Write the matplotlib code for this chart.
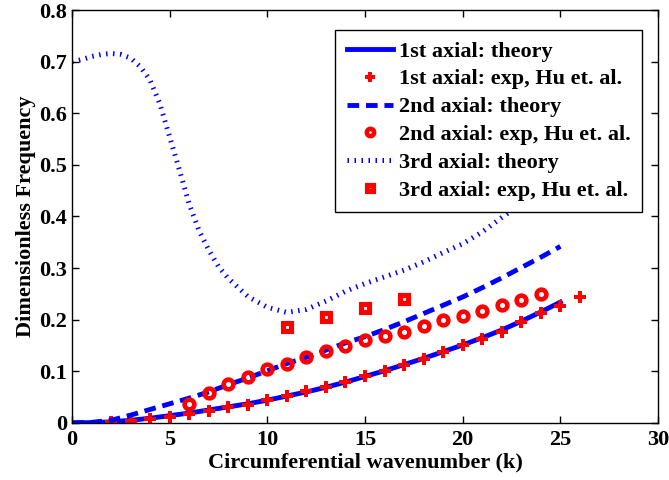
import numpy as np
import matplotlib
matplotlib.use("Agg")
import matplotlib.pyplot as plt
from matplotlib.ticker import FuncFormatter

# theory curves
k_th = np.arange(0, 26)
f1_th = [0.0, 0.0005, 0.002, 0.005, 0.009, 0.014, 0.019, 0.025, 0.031, 0.037,
         0.044, 0.052, 0.060, 0.069, 0.079, 0.090, 0.101, 0.113, 0.125, 0.138,
         0.151, 0.165, 0.180, 0.197, 0.215, 0.234]
f2_th = [0.0, 0.001, 0.005, 0.015, 0.026, 0.037, 0.048, 0.060, 0.074, 0.087,
         0.101, 0.115, 0.127, 0.141, 0.155, 0.167, 0.181, 0.196, 0.212, 0.228,
         0.244, 0.262, 0.281, 0.301, 0.321, 0.342]
k3_th = [0, 0.5, 1, 1.5, 2, 2.5, 3, 3.5, 4, 4.5, 5, 5.5, 6, 6.5, 7, 7.5, 8,
         9, 10, 11, 12, 13, 14, 15, 16, 17, 18, 19, 20, 21, 22, 23, 24, 25]
f3_th = [0.700, 0.704, 0.710, 0.714, 0.716, 0.714, 0.707, 0.690, 0.664, 0.618,
         0.554, 0.490, 0.424, 0.373, 0.335, 0.303, 0.280, 0.245, 0.224, 0.214,
         0.220, 0.236, 0.255, 0.270, 0.283, 0.296, 0.312, 0.330, 0.347, 0.370,
         0.398, 0.425, 0.455, 0.485]

# experiments, Hu et al.
k1_exp = np.arange(2, 27)
f1_exp = [0.002, 0.004, 0.008, 0.012, 0.017, 0.023, 0.030, 0.035, 0.044, 0.052,
          0.061, 0.069, 0.080, 0.091, 0.101, 0.112, 0.124, 0.137, 0.150, 0.163,
          0.177, 0.195, 0.212, 0.227, 0.243]
k2_exp = np.arange(6, 25)
f2_exp = [0.037, 0.057, 0.076, 0.089, 0.104, 0.115, 0.127, 0.139, 0.149, 0.160,
          0.169, 0.176, 0.188, 0.199, 0.207, 0.216, 0.228, 0.238, 0.249]
k3_exp = [11, 13, 15, 17]
f3_exp = [0.185, 0.206, 0.223, 0.240]

plt.rcParams['font.family'] = ['Liberation Serif', 'DejaVu Serif']
plt.rcParams['font.weight'] = 'bold'

fig = plt.figure(figsize=(6.69, 4.8), dpi=100)
ax = fig.add_axes([0.1076, 0.119, 0.8760, 0.860])

ax.plot(k_th, f1_th, '-', color='#0000ff', lw=3.5, label='1st axial: theory')
ax.plot(k1_exp, f1_exp, 'P', color='#ff0000', ms=9, mew=0,
        label='1st axial: exp, Hu et. al.')
ax.plot(k_th, f2_th, color='#0000ff', lw=3.5, ls=(0, (2.4, 1.4)),
        label='2nd axial: theory')
ax.plot(k2_exp, f2_exp, 'o', mec='#ff0000', mfc='none', ms=7, mew=3.3,
        label='2nd axial: exp, Hu et. al.')
ax.plot(k3_th, f3_th, color='#0000ff', lw=3.6, ls=(0, (0.3, 1.1)),
        dash_capstyle='butt', label='3rd axial: theory')
ax.plot(k3_exp, f3_exp, 's', mec='#ff0000', mfc='none', ms=5.5, mew=3.7,
        label='3rd axial: exp, Hu et. al.')

ax.set_xlim(0, 30)
ax.set_ylim(0, 0.8)
ax.set_xticks(np.arange(0, 31, 5))
ax.set_yticks(np.arange(0, 0.81, 0.1))
ax.yaxis.set_major_formatter(FuncFormatter(lambda v, p: '0' if v == 0 else '%g' % round(v, 1)))
ax.tick_params(direction='in', top=True, right=True, labelsize=16, length=5, width=1)
ax.tick_params(axis='x', pad=5)
for s in ax.spines.values():
    s.set_linewidth(1)

ax.set_xlabel('Circumferential wavenumber (k)', fontsize=16, fontweight='bold', labelpad=2)
ax.set_ylabel('Dimensionless Frequency', fontsize=16, fontweight='bold', labelpad=2)

leg = ax.legend(loc='upper right', bbox_to_anchor=(0.9727, 0.952), borderaxespad=0,
                fontsize=16, frameon=True, fancybox=False, edgecolor='black',
                framealpha=1, handlelength=2.1, labelspacing=0.33, borderpad=0.5,
                handletextpad=0.27, markerscale=0.75)
leg.get_frame().set_linewidth(1)

fig.savefig('out.png', dpi=100)
